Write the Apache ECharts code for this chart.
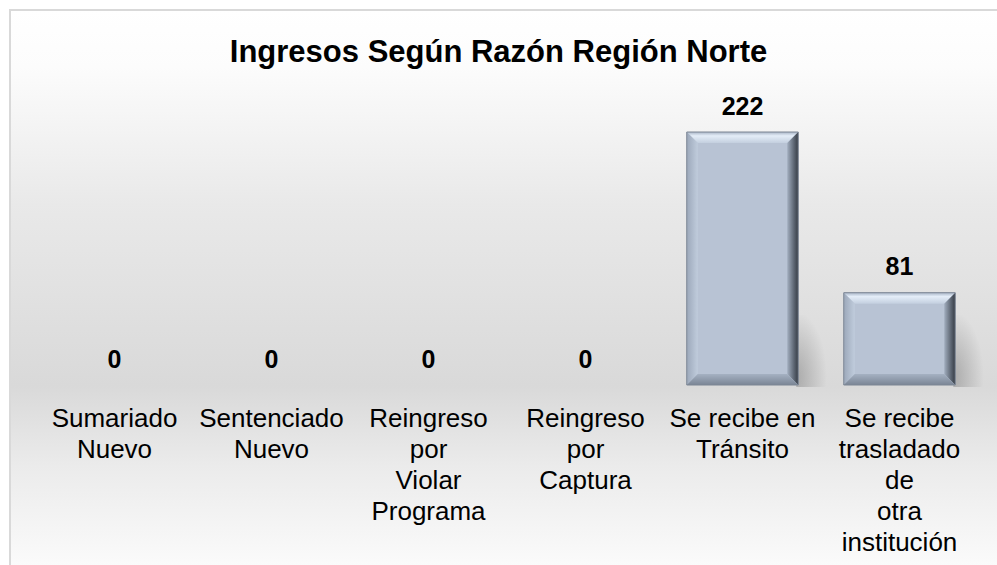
<!DOCTYPE html>
<html>
<head>
<meta charset="utf-8">
<title>Ingresos Según Razón Región Norte</title>
<script src="https://cdn.jsdelivr.net/npm/echarts@6/dist/echarts.min.js"></script>
<style>
  html, body { margin: 0; padding: 0; background: #fff; }
  #main { width: 997px; height: 565px; }
</style>
</head>
<body>
<div id="main"></div>
<script type="text/javascript">
// datos del gráfico
var titulo = 'Ingresos Según Razón Región Norte';
var categorias = [
  'Sumariado\nNuevo',
  'Sentenciado\nNuevo',
  'Reingreso\npor\nViolar\nPrograma',
  'Reingreso\npor\nCaptura',
  'Se recibe en\nTránsito',
  'Se recibe\ntrasladado\nde\notra\ninstitución'
];
var valores = [0, 0, 0, 0, 222, 81];

var FUENTE = "'Liberation Sans', Arial, sans-serif";
var G = echarts.graphic;

// barra con bisel (estilo Excel)
function barraBisel(params, api) {
  var idx = api.value(0), val = api.value(1);
  if (!val) return null;
  var top = api.coord([idx, val]);
  var base = api.coord([idx, 0]);
  var w = api.size([1, 0])[0] * 0.71;
  var x0 = top[0] - w / 2, x1 = x0 + w, y0 = top[1], y1 = base[1];
  var b = Math.min(11, (y1 - y0) / 2);
  return {
    type: 'group',
    children: [
      { type: 'rect', shape: { x: x1 - 2, y: y1 - 70, width: 34, height: 72 },
        style: { fill: new G.RadialGradient(0, 0.85, 0.9, [
          { offset: 0, color: 'rgba(0,0,0,0.22)' },
          { offset: 1, color: 'rgba(0,0,0,0)' }]) } },
      { type: 'rect', shape: { x: x0, y: y0, width: w, height: y1 - y0 },
        style: { fill: '#b8c3d4' } },
      { type: 'polygon', shape: { points: [[x0, y0], [x1, y0], [x1 - b, y0 + b], [x0 + b, y0 + b]] },
        style: { fill: new G.LinearGradient(0, 0, 0, 1, [
          { offset: 0, color: '#a9b5c7' },
          { offset: 0.35, color: '#e4edf8' },
          { offset: 1, color: '#c3cfdf' }]) } },
      { type: 'polygon', shape: { points: [[x0, y0], [x0 + b, y0 + b], [x0 + b, y1 - b], [x0, y1]] },
        style: { fill: new G.LinearGradient(0, 0, 1, 0, [
          { offset: 0, color: '#9ca8ba' },
          { offset: 1, color: '#c0ccdc' }]) } },
      { type: 'polygon', shape: { points: [[x1, y0], [x1, y1], [x1 - b, y1 - b], [x1 - b, y0 + b]] },
        style: { fill: new G.LinearGradient(0, 0, 1, 0, [
          { offset: 0, color: '#a2aebf' },
          { offset: 0.6, color: '#5e6774' },
          { offset: 1, color: '#363c45' }]) } },
      { type: 'polygon', shape: { points: [[x0, y1], [x1, y1], [x1 - b, y1 - b], [x0 + b, y1 - b]] },
        style: { fill: new G.LinearGradient(0, 0, 0, 1, [
          { offset: 0, color: '#a5b1c2' },
          { offset: 1, color: '#7a8595' }]) } },
      { type: 'rect', shape: { x: x0, y: y0, width: w, height: y1 - y0 },
        style: { fill: 'none', stroke: '#7c8694', lineWidth: 1 } }
    ]
  };
}

var chart = echarts.init(document.getElementById('main'), null, { renderer: 'svg' });

chart.setOption({
  animation: false,
  textStyle: { fontFamily: FUENTE },
  graphic: [{
    type: 'rect', z: -10, silent: true,
    shape: { x: 10, y: 10, width: 1000, height: 570 },
    style: {
      stroke: '#d9d9d9', lineWidth: 2,
      fill: new G.LinearGradient(0, 0, 0, 1, [
        { offset: 0, color: '#ffffff' },
        { offset: 0.1, color: '#fcfcfc' },
        { offset: 0.34, color: '#e9e9e9' },
        { offset: 0.66, color: '#d9d9d9' },
        { offset: 0.8, color: '#ebebeb' },
        { offset: 1, color: '#fdfdfd' }])
    }
  }],
  title: {
    text: titulo,
    left: 'center',
    top: 31,
    textStyle: { fontFamily: FUENTE, fontSize: 31, fontWeight: 'bold', color: '#000' }
  },
  grid: { left: 36, right: 19, top: 132, bottom: 180 },
  xAxis: {
    type: 'category',
    data: categorias,
    axisLine: { show: false },
    axisTick: { show: false },
    axisLabel: {
      interval: 0, margin: 17,
      fontFamily: FUENTE, fontSize: 26, lineHeight: 31, color: '#000', align: 'center'
    }
  },
  yAxis: { type: 'value', min: 0, max: 222, show: false },
  series: [
    {
      type: 'custom',
      renderItem: barraBisel,
      data: valores.map(function (v, i) { return [i, v]; }),
      silent: true
    },
    {
      type: 'bar',
      data: valores,
      barWidth: '71%',
      silent: true,
      itemStyle: { color: 'rgba(0,0,0,0)' },
      label: {
        show: true, position: 'top', distance: 14,
        fontFamily: FUENTE, fontSize: 25, fontWeight: 'bold', color: '#000'
      }
    }
  ]
});
</script>
</body>
</html>
